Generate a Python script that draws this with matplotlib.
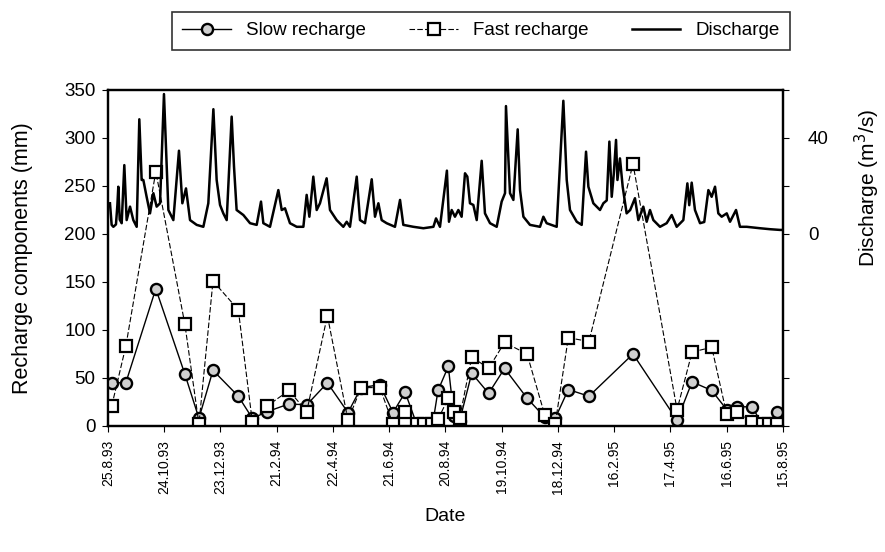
import numpy as np
import pandas as pd
import matplotlib
matplotlib.use('Agg')
import matplotlib.pyplot as plt
from matplotlib.ticker import FuncFormatter, MultipleLocator

plt.rcParams['font.family'] = ['Liberation Sans', 'DejaVu Sans']

start = pd.Timestamp('1993-08-25')

# recharge sample dates (days after 25.8.93) and values (mm)
rech_days = [4, 19, 51, 82, 97, 112, 139, 154, 170, 193, 212, 234, 256, 270, 290,
             304, 317, 330, 337, 346, 352, 363, 369, 375, 388, 406, 423, 447, 466,
             477, 491, 513, 560, 607, 623, 644, 660, 671, 687, 699, 705, 714]
slow = [45, 45, 143, 54, 8, 58, 31, 8, 15, 23, 22, 45, 14, 40, 43,
        14, 35, 0, 0, 0, 37, 62, 10, 5, 55, 34, 60, 29, 9,
        8, 38, 31, 75, 6, 46, 37, 17, 20, 20, 0, 0, 15]
fast = [21, 83, 265, 106, 2, 151, 121, 4, 21, 37, 15, 115, 6, 40, 40,
        2, 15, 2, 2, 2, 7, 29, 15, 8, 72, 60, 87, 75, 11,
        2, 92, 88, 273, 17, 77, 82, 12, 15, 4, 2, 2, 2]

# discharge hydrograph (days after 25.8.93, m3/s)
q_days = [2.1, 3.9, 5.7, 8.5, 10, 11, 12.5, 14.6, 17.4, 19.9, 23.5, 27, 30.6, 33.4,
          35.9, 37.7, 41.2, 44.8, 48.4, 51.9, 55.5, 59.7, 64.4, 69.7, 75.7, 79.3,
          83.2, 87.5, 94.6, 101.7, 107, 112.4, 115.9, 119.5, 123, 126.6, 131.9,
          134.4, 137.2, 144.4, 151.5, 158.6, 163.2, 165.7, 172.8, 181.7, 185.3,
          188.8, 194.1, 201.3, 208.4, 211.9, 214.8, 219, 222.6, 226.1, 233.2,
          236.8, 243.9, 251, 254.6, 258.1, 265.3, 268.8, 274.1, 281.3, 284.8,
          288.4, 291.9, 297.2, 306.1, 311.5, 315, 325.7, 336.4, 347.1, 349.9,
          354.1, 361.5, 363.7, 366.6, 370.1, 373.7, 377.2, 380.8, 383.3, 386.1,
          389.7, 393.3, 398.6, 402.1, 407.5, 414.6, 419.9, 423.5, 424.5, 428.8,
          432.4, 437, 439.5, 443.1, 450.1, 460.8, 464.4, 467.9, 478.6, 485.7,
          489.3, 492.8, 500, 505.3, 509.9, 512.4, 517.7, 524.8, 528.4, 532,
          534.8, 537.3, 539.5, 541.9, 543.4, 546.1, 549, 553.2, 557, 562.1,
          565.7, 571, 574.6, 578.1, 581.7, 588.8, 595.9, 601.3, 606.6, 613.7,
          618, 620, 622.6, 626.1, 631.5, 636, 640.4, 643.9, 647.5, 651, 654.6,
          660, 663.5, 669.9, 674.1, 681.3, 695.5, 706.1, 716.8, 720]
q_vals = [12.8, 3.8, 3.0, 4.0, 12, 19.7, 6, 4.5, 28.7, 5.8, 11.4, 5.8, 3.0, 47.8,
          22.5, 22.5, 15.5, 8.6, 17, 11.4, 12.8, 58.3, 10, 5.8, 34.7, 12.8,
          19, 5.8, 3.8, 3.0, 12.8, 52, 22.5, 12.1, 8.6, 5.8, 48.9,
          28.1, 10, 7.9, 4.5, 3.8, 13.5, 4.5, 3.0, 18.3, 10,
          10.7, 4.5, 3.0, 3.0, 16.3, 7.2, 23.9, 10, 12.8, 23.2,
          10, 5.8, 3.0, 5.1, 3.0, 23.9, 5.8, 4.5, 22.8, 7.2,
          12.8, 5.8, 4.5, 3.0, 14.2, 3.8, 3.0, 2.4, 3.0, 6.5,
          3.0, 26.4, 5.1, 10, 7.2, 10, 7.2, 25.3, 23.9, 12.8,
          12.1, 5.8, 30.5, 8.6, 4.5, 3.0, 13.5, 17, 53.3, 17,
          14.2, 43.6, 18.3, 7.2, 3.8, 3.0, 7.2, 4.5, 3.0, 55.5,
          22.5, 10, 5.1, 3.8, 34.3, 19.7, 12.8, 10, 12.8, 14,
          38.5, 15.5, 25, 39.2, 22.5, 31.5, 19.7, 8.6, 10, 14.9,
          5.8, 11.4, 5.1, 10, 5.8, 3.0, 4.5, 7.9, 3.0, 5.8,
          21.1, 12, 21.4, 10, 4.5, 5, 18.3, 15.5, 19.7, 8.6, 7.2,
          8.6, 5.1, 10, 3.0, 3.0, 2.4, 2.0, 1.7, 1.7]

tick_days = [0, 60, 120, 180, 240, 300, 360, 420, 480, 540, 600, 660, 720]

rech_dates = start + pd.to_timedelta(rech_days, unit='D')
q_dates = start + pd.to_timedelta(q_days, unit='D')
tick_dates = start + pd.to_timedelta(tick_days, unit='D')

fig = plt.figure(figsize=(8.85, 5.52), dpi=100)
ax = fig.add_axes([108/885, 1 - 426/552, 675/885, 336/552])
ax2 = ax.twinx()

ax.plot(rech_dates, slow, color='black', lw=1.0, marker='o', ms=8,
        mfc='#d0d0d0', mec='black', mew=1.7, label='Slow recharge', zorder=3)
ax.plot(rech_dates, fast, color='black', lw=0.8, ls=(0, (5, 2)), marker='s', ms=9,
        mfc='white', mec='black', mew=1.6, label='Fast recharge', zorder=4)
ax2.plot(q_dates, q_vals, color='black', lw=1.8, label='Discharge')

ax.set_xlim(start, start + pd.Timedelta(days=720))
ax.set_ylim(0, 350)
ax.yaxis.set_major_locator(MultipleLocator(50))
ax2.set_ylim(-80, 60)
ax2.yaxis.set_major_locator(MultipleLocator(20))
ax2.yaxis.set_major_formatter(FuncFormatter(lambda v, p: f'{v:.0f}' if round(v) in (0, 40) else ''))

ax.set_xticks(tick_dates)
ax.set_xticklabels([f'{d.day}.{d.month}.{d.year % 100}' for d in tick_dates],
                   rotation=90, fontsize=10)
ax.tick_params(axis='y', labelsize=13.5, length=4, width=0.8, pad=5)
ax.tick_params(axis='x', length=4, width=0.8, pad=6)
ax2.tick_params(axis='y', labelsize=13.5, length=4, width=0.8, pad=14)

for a in (ax, ax2):
    for s in a.spines.values():
        s.set_linewidth(1.6)

ax.set_ylabel('Recharge components (mm)', fontsize=15.5, labelpad=22)
ax2.set_ylabel('Discharge (m$^3$/s)', fontsize=15)
# the discharge label sits beside the discharge part of the axis
ax2.yaxis.set_label_coords(1.104, 0.708)
ax.set_xlabel('Date', fontsize=14, labelpad=10)

h1, l1 = ax.get_legend_handles_labels()
h2, l2 = ax2.get_legend_handles_labels()
leg = fig.legend(h1 + h2, l1 + l2, loc='upper left', ncol=3, mode='expand',
                 bbox_to_anchor=(172/885, 1 - 50/552, 618/885, 38/552),
                 fontsize=13.5, frameon=True, fancybox=False, edgecolor='black',
                 handlelength=2.6, borderaxespad=0, borderpad=0.55)
leg.get_frame().set_linewidth(1.2)

fig.savefig('out.png', dpi=100, facecolor='white')
